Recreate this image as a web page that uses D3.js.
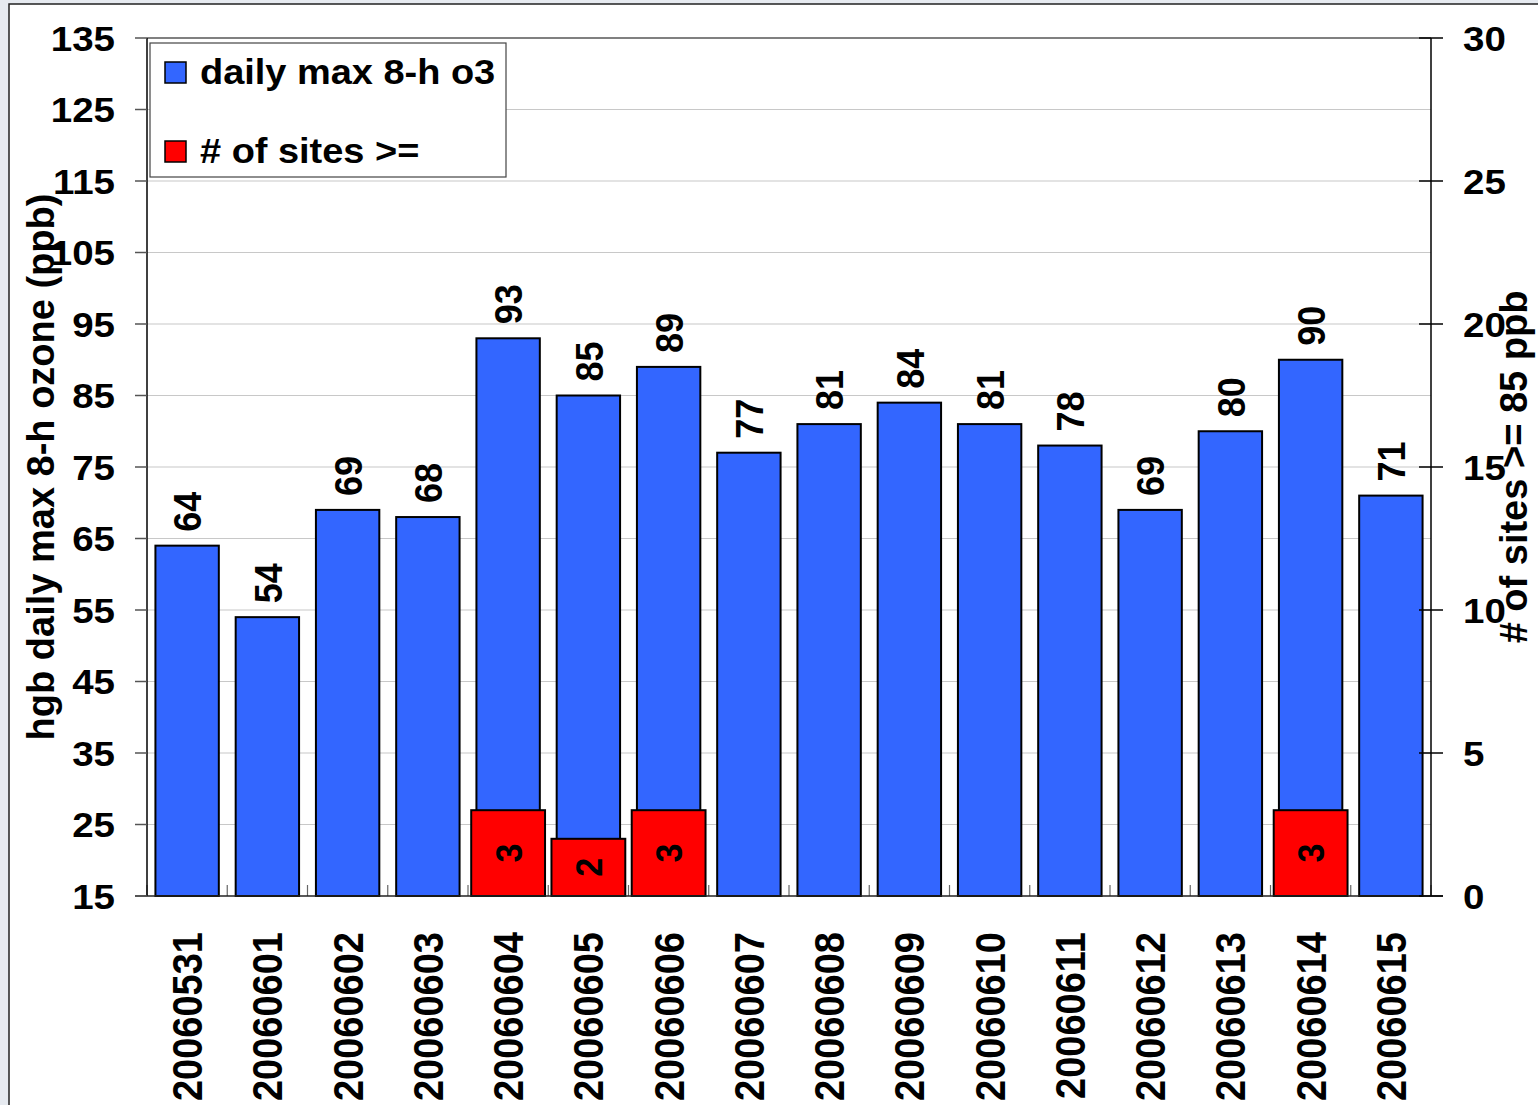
<!DOCTYPE html>
<html><head><meta charset="utf-8">
<script src="https://cdn.jsdelivr.net/npm/d3@7"></script>
<style>
html,body{margin:0;padding:0;background:#fff;}
svg{display:block;}
text{font-family:"Liberation Sans",Arial,sans-serif;font-weight:bold;fill:#000;}
</style></head>
<body>
<svg id="c" width="1538" height="1105"></svg>
<script>
const categories = ["20060531","20060601","20060602","20060603","20060604","20060605","20060606","20060607","20060608","20060609","20060610","20060611","20060612","20060613","20060614","20060615"];
const ozoneValues = [64,54,69,68,93,85,89,77,81,84,81,78,69,80,90,71];
const siteCounts = [0,0,0,0,3,2,3,0,0,0,0,0,0,0,3,0];
const leftTicks = [15,25,35,45,55,65,75,85,95,105,115,125,135];
const rightTicks = [0,5,10,15,20,25,30];
const seriesNames = ["daily max 8-h o3","# of sites >="];
const leftTitle = "hgb daily max 8-h ozone (ppb)";
const rightTitle = "# of sites >= 85 ppb";

const svg = d3.select("#c");
const SX = 1.1;
const L = 147, R = 1431, T = 38, B = 896;

// frame
svg.append("rect").attr("x",0).attr("y",0).attr("width",1538).attr("height",1105).attr("fill","#e6eaf0");
svg.append("rect").attr("x",9).attr("y",4).attr("width",1540).attr("height",1110).attr("fill","#fff").attr("stroke","#222").attr("stroke-width",1.5);

const x = d3.scaleBand().domain(categories).range([L,R]);
const yL = d3.scaleLinear().domain([15,135]).range([B,T]);
const yR = d3.scaleLinear().domain([0,30]).range([B,T]);

function txt(g, str, px, py, size, rot, anchor, dy){
  return g.append("text").text(str)
    .attr("transform",`translate(${px},${py}) scale(${SX},1)` + (rot?` rotate(${rot})`:""))
    .attr("font-size",size).attr("text-anchor",anchor||"start").attr("dy",dy||0);
}

// gridlines
svg.append("g").selectAll("line").data(leftTicks.filter(t=>t>15 && t<135)).join("line")
  .attr("x1",L).attr("x2",R).attr("y1",d=>yL(d)).attr("y2",d=>yL(d))
  .attr("stroke","#c8c8c8").attr("stroke-width",1.2);
svg.append("line").attr("x1",L).attr("x2",R).attr("y1",yL(135)).attr("y2",yL(135))
  .attr("stroke","#808080").attr("stroke-width",2);

// blue bars
const bw = x.bandwidth()*0.79;
svg.append("g").selectAll("rect").data(categories).join("rect")
  .attr("x",(d)=>x(d)+x.bandwidth()/2-bw/2).attr("width",bw)
  .attr("y",(d,i)=>yL(ozoneValues[i])).attr("height",(d,i)=>yL(15)-yL(ozoneValues[i]))
  .attr("fill","#3366FF").attr("stroke","#000").attr("stroke-width",2);

// red bars
const rw = x.bandwidth()*0.92;
const redIdx = categories.map((c,i)=>i).filter(i=>siteCounts[i]>0);
svg.append("g").selectAll("rect").data(redIdx).join("rect")
  .attr("x",i=>x(categories[i])+x.bandwidth()/2-rw/2).attr("width",rw)
  .attr("y",i=>yR(siteCounts[i])).attr("height",i=>yR(0)-yR(siteCounts[i]))
  .attr("fill","#FF0000").attr("stroke","#000").attr("stroke-width",2);

// category ticks
svg.append("g").selectAll("line").data(d3.range(categories.length+1)).join("line")
  .attr("x1",i=>L+i*x.bandwidth()).attr("x2",i=>L+i*x.bandwidth())
  .attr("y1",B).attr("y2",B-11).attr("stroke","#666").attr("stroke-width",1.2);

// axes lines
svg.append("line").attr("x1",L).attr("x2",L).attr("y1",T).attr("y2",B).attr("stroke","#000").attr("stroke-width",1.5);
svg.append("line").attr("x1",R).attr("x2",R).attr("y1",T).attr("y2",B).attr("stroke","#000").attr("stroke-width",1.5);
svg.append("line").attr("x1",135).attr("x2",1443).attr("y1",B).attr("y2",B).attr("stroke","#222").attr("stroke-width",1.5);

// left axis
const gl = svg.append("g");
gl.selectAll("line").data(leftTicks).join("line")
  .attr("x1",135).attr("x2",L).attr("y1",d=>yL(d)).attr("y2",d=>yL(d)).attr("stroke","#555").attr("stroke-width",1.5);
leftTicks.forEach(t=>txt(gl, String(t), 115, yL(t), 35, 0, "end", "0.36em"));

// right axis
const gr = svg.append("g");
gr.selectAll("line").data(rightTicks).join("line")
  .attr("x1",1419).attr("x2",1443).attr("y1",d=>yR(d)).attr("y2",d=>yR(d)).attr("stroke","#000").attr("stroke-width",1.5);
rightTicks.forEach(t=>txt(gr, String(t), 1463, yR(t), 35, 0, "start", "0.36em"));

// value labels
const gv = svg.append("g");
categories.forEach((c,i)=>{
  txt(gv, String(ozoneValues[i]), x(c)+x.bandwidth()/2, yL(ozoneValues[i])-14, 36, -90, "start", "0.36em");
});
redIdx.forEach(i=>{
  txt(gv, String(siteCounts[i]), x(categories[i])+x.bandwidth()/2, (yR(siteCounts[i])+yR(0))/2, 34, -90, "middle", "0.36em");
});

// x labels
const gx = svg.append("g");
categories.forEach(c=>{
  txt(gx, c, x(c)+x.bandwidth()/2, 932, 38, -90, "end", "0.36em");
});

// axis titles
svg.append("text").text(leftTitle).attr("font-size",38).attr("text-anchor","middle")
  .attr("transform",`translate(54,${(T+B)/2}) rotate(-90)`);
svg.append("text").text(rightTitle).attr("font-size",38).attr("text-anchor","middle")
  .attr("transform",`translate(1527,${(T+B)/2}) rotate(-90)`);

// legend
const lg = svg.append("g");
lg.append("rect").attr("x",150).attr("y",43).attr("width",356).attr("height",134)
  .attr("fill","#fff").attr("stroke","#444").attr("stroke-width",1.2);
const swatchColors = ["#3366FF","#FF0000"];
const ly = [84, 163];
seriesNames.forEach((n,i)=>{
  lg.append("rect").attr("x",165).attr("y",ly[i]-22).attr("width",21).attr("height",21)
    .attr("fill",swatchColors[i]).attr("stroke","#000").attr("stroke-width",1.5);
  txt(lg, n, 200, ly[i], 34.5, 0, "start", 0);
});
</script>
</body></html>
